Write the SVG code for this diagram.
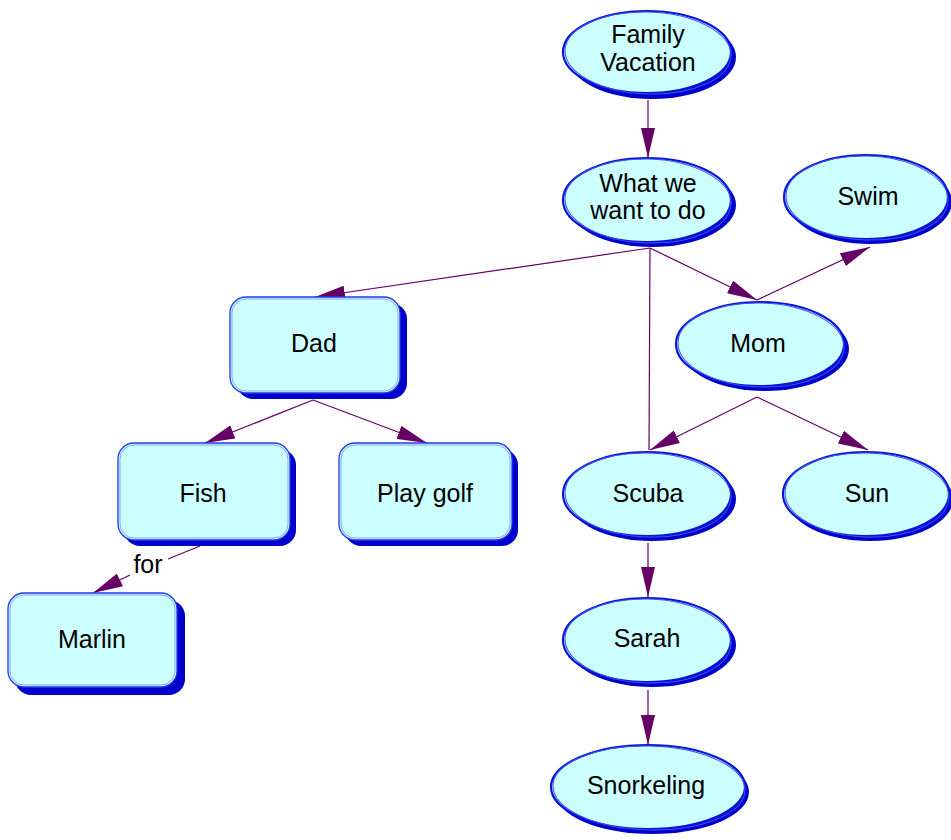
<svg xmlns="http://www.w3.org/2000/svg" width="951" height="840" viewBox="0 0 951 840">
<style>
.sh{fill:#0000CC;}
.el{fill:#CCFFFF;stroke:#0A14D8;stroke-width:2.2;}
.el2{fill:none;stroke:#4050F0;stroke-width:1;}
.bx{fill:#CCFFFF;stroke:#1E3CE6;stroke-width:1.3;}
.bx2{fill:none;stroke:#8CA0FF;stroke-width:1;}
.t{font-family:"Liberation Sans",Arial,sans-serif;font-size:25px;fill:#000;text-anchor:middle;}
.c{stroke:#660066;stroke-width:1.2;fill:none;}
</style>
<defs>
<marker id="ah" markerUnits="userSpaceOnUse" markerWidth="30" markerHeight="14" refX="30" refY="7" orient="auto">
<path d="M0,0 L30,7 L0,14 Z" fill="#660066"/>
</marker>
</defs>
<g id="connectors">
<line class="c" x1="648" y1="100" x2="648" y2="158" marker-end="url(#ah)"/>
<line class="c" x1="650" y1="248" x2="315" y2="297" marker-end="url(#ah)"/>
<line class="c" x1="650" y1="248" x2="757" y2="300" marker-end="url(#ah)"/>
<line class="c" x1="650" y1="248" x2="649" y2="450"/>
<line class="c" x1="757" y1="300" x2="870" y2="247" marker-end="url(#ah)"/>
<line class="c" x1="757" y1="397" x2="650" y2="450" marker-end="url(#ah)"/>
<line class="c" x1="757" y1="397" x2="868" y2="450" marker-end="url(#ah)"/>
<line class="c" x1="648" y1="543" x2="648" y2="597" marker-end="url(#ah)"/>
<line class="c" x1="648" y1="690" x2="648" y2="745" marker-end="url(#ah)"/>
<line class="c" x1="313" y1="400" x2="205" y2="443" marker-end="url(#ah)"/>
<line class="c" x1="313" y1="400" x2="427" y2="443" marker-end="url(#ah)"/>
<line class="c" x1="200" y1="546" x2="168" y2="559"/>
<line class="c" x1="130" y1="575" x2="93" y2="593" marker-end="url(#ah)"/>
<text class="t" x="148" y="573">for</text>
</g>
<g id="family-vacation">
<ellipse class="sh" cx="652" cy="57" rx="84" ry="42"/>
<ellipse class="el" cx="647" cy="52" rx="84" ry="41"/>
<ellipse class="el2" cx="648" cy="53" rx="83" ry="41" transform="rotate(2 648 53)"/>
<text class="t" x="648" y="43">Family</text>
<text class="t" x="648" y="71">Vacation</text>
</g>
<g id="what-we-want-to-do">
<ellipse class="sh" cx="652" cy="205" rx="84" ry="42"/>
<ellipse class="el" cx="647" cy="200" rx="84" ry="42"/>
<ellipse class="el2" cx="648" cy="201" rx="83" ry="42" transform="rotate(2 648 201)"/>
<text class="t" x="648" y="192">What we</text>
<text class="t" x="648" y="219">want to do</text>
</g>
<g id="swim">
<ellipse class="sh" cx="870" cy="202" rx="82" ry="42"/>
<ellipse class="el" cx="866" cy="197" rx="82" ry="42"/>
<ellipse class="el2" cx="867" cy="198" rx="81" ry="42" transform="rotate(2 867 198)"/>
<text class="t" x="868" y="205">Swim</text>
</g>
<g id="mom">
<ellipse class="sh" cx="765" cy="349" rx="84" ry="42"/>
<ellipse class="el" cx="760" cy="344" rx="84" ry="42"/>
<ellipse class="el2" cx="761" cy="345" rx="83" ry="42" transform="rotate(2 761 345)"/>
<text class="t" x="758" y="352">Mom</text>
</g>
<g id="scuba">
<ellipse class="sh" cx="652" cy="499" rx="84" ry="42"/>
<ellipse class="el" cx="647" cy="494" rx="84" ry="42"/>
<ellipse class="el2" cx="648" cy="495" rx="83" ry="42" transform="rotate(2 648 495)"/>
<text class="t" x="648" y="502">Scuba</text>
</g>
<g id="sun">
<ellipse class="sh" cx="870" cy="499" rx="83" ry="42"/>
<ellipse class="el" cx="866" cy="494" rx="83" ry="42"/>
<ellipse class="el2" cx="867" cy="495" rx="82" ry="42" transform="rotate(2 867 495)"/>
<text class="t" x="867" y="502">Sun</text>
</g>
<g id="sarah">
<ellipse class="sh" cx="652" cy="645" rx="84" ry="42"/>
<ellipse class="el" cx="647" cy="640" rx="84" ry="42"/>
<ellipse class="el2" cx="648" cy="641" rx="83" ry="42" transform="rotate(2 648 641)"/>
<text class="t" x="647" y="647">Sarah</text>
</g>
<g id="snorkeling">
<ellipse class="sh" cx="652" cy="792" rx="97" ry="42"/>
<ellipse class="el" cx="648" cy="787" rx="97" ry="42"/>
<ellipse class="el2" cx="649" cy="788" rx="96" ry="42" transform="rotate(1.5 649 788)"/>
<text class="t" x="646" y="794">Snorkeling</text>
</g>
<g id="dad">
<rect class="sh" x="237" y="303" width="170" height="96" rx="16"/>
<rect class="bx" x="230" y="297" width="170" height="96" rx="16"/>
<rect class="bx2" x="232" y="299" width="166" height="92" rx="14"/>
<text class="t" x="314" y="352">Dad</text>
</g>
<g id="fish">
<rect class="sh" x="124" y="449" width="172" height="97" rx="16"/>
<rect class="bx" x="118" y="443" width="172" height="97" rx="16"/>
<rect class="bx2" x="120" y="445" width="168" height="93" rx="14"/>
<text class="t" x="203" y="502">Fish</text>
</g>
<g id="play-golf">
<rect class="sh" x="345" y="449" width="173" height="97" rx="16"/>
<rect class="bx" x="339" y="443" width="173" height="97" rx="16"/>
<rect class="bx2" x="341" y="445" width="169" height="93" rx="14"/>
<text class="t" x="425" y="502">Play golf</text>
</g>
<g id="marlin">
<rect class="sh" x="15" y="600" width="170" height="95" rx="16"/>
<rect class="bx" x="8" y="593" width="169" height="94" rx="16"/>
<rect class="bx2" x="10" y="595" width="165" height="90" rx="14"/>
<text class="t" x="92" y="648">Marlin</text>
</g>
</svg>
